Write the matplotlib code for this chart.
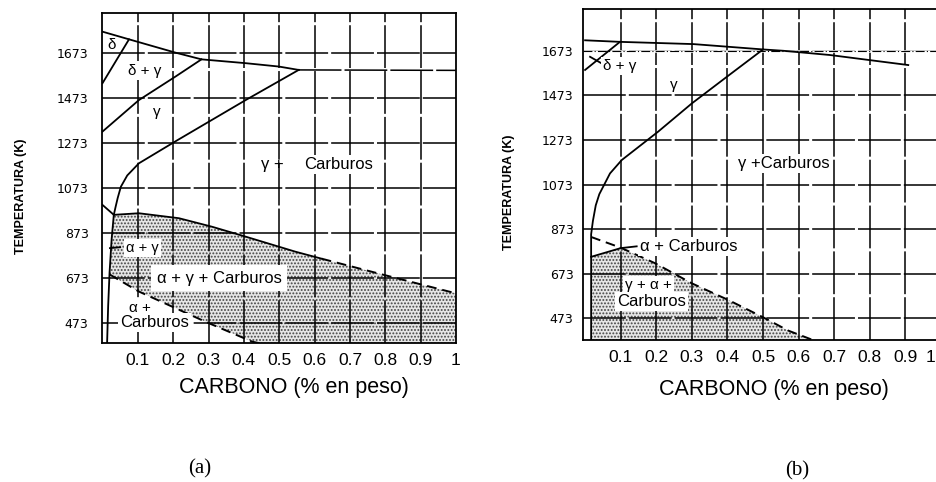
import matplotlib
matplotlib.use("Agg")
from matplotlib import pyplot
from matplotlib.transforms import ScaledTranslation

pyplot.rcParams["font.family"] = ["Liberation Sans", "DejaVu Sans"]
pyplot.rcParams["hatch.linewidth"] = 0.9

temp_ticks = [473, 673, 873, 1073, 1273, 1473, 1673]
carbon_ticks = [0.1, 0.2, 0.3, 0.4, 0.5, 0.6, 0.7, 0.8, 0.9, 1.0]
carbon_labels = ["0.1", "0.2", "0.3", "0.4", "0.5", "0.6", "0.7", "0.8", "0.9", "1"]

# ---- diagram (a) ----
a_top_x = [0.0, 0.075, 0.206, 0.28, 0.405, 0.499, 0.555]
a_top_t = [1769, 1735, 1676, 1646, 1629, 1614, 1599]
a_ext_x = [0.555, 1.0]
a_ext_t = [1599, 1597]
a_delta_x = [0.075, 0.0]
a_delta_t = [1735, 1540]
a_dg_x = [0.0, 0.103, 0.206, 0.28]
a_dg_t = [1325, 1465, 1569, 1646]
a_solvus_x = [0.555, 0.405, 0.21, 0.103, 0.07, 0.052, 0.043, 0.037, 0.032, 0.026, 0.02, 0.016, 0.013]
a_solvus_t = [1599, 1465, 1285, 1184, 1130, 1080, 1030, 990, 955, 850, 700, 550, 384]
a_ag_x = [0.0, 0.032]
a_ag_t = [999, 955]
a_eut_x = [0.032, 0.103, 0.216, 0.31, 0.405, 0.546, 0.62]
a_eut_t = [955, 962, 940, 902, 858, 791, 760]
a_eut_dash_x = [0.62, 0.796, 1.0]
a_eut_dash_t = [760, 688, 606]
a_acarb_x = [0.02, 0.103, 0.197, 0.291, 0.424, 0.445]
a_acarb_t = [690, 614, 547, 480, 391, 384]

# ---- diagram (b) ----
b_top_x = [0.0, 0.098, 0.304, 0.5, 0.557, 0.688, 0.908]
b_top_t = [1720, 1713, 1703, 1679, 1673, 1654, 1609]
b_delta_x = [0.0, 0.098]
b_delta_t = [1587, 1713]
b_solvus_x = [0.5, 0.398, 0.3, 0.205, 0.103, 0.07, 0.04, 0.03, 0.022, 0.017, 0.017]
b_solvus_t = [1679, 1556, 1437, 1310, 1183, 1123, 1030, 980, 910, 850, 376]
b_dash_x = [0.017, 0.1, 0.197, 0.3, 0.403, 0.5, 0.571, 0.64]
b_dash_t = [838, 790, 720, 630, 555, 478, 418, 376]
b_acarb_x = [0.017, 0.1]
b_acarb_t = [749, 788]

figure = pyplot.figure(figsize=(9.37, 4.82), dpi=100)
ax_a = figure.add_axes([102.5 / 937, 1 - 343.3 / 482, 353.5 / 937, 330.3 / 482])
ax_b = figure.add_axes([583.3 / 937, 1 - 340 / 482, 357.7 / 937, 330.7 / 482])

grid_style = dict(color="black", linewidth=1.1, linestyle=(0, (28, 2)), zorder=1)
line_style = dict(color="black", linewidth=1.3, zorder=3)
dash_style = dict(color="black", linewidth=1.4, linestyle=(0, (5, 3)), zorder=3)
label_box = dict(facecolor="white", edgecolor="none", pad=1.5)


def setup(ax, xlim, ylim, ypad):
    ax.set_xlim(*xlim)
    ax.set_ylim(*ylim)
    for x in carbon_ticks[:-1]:
        ax.axvline(x, **grid_style)
    for t in temp_ticks:
        ax.axhline(t, **grid_style)
    ax.set_xticks(carbon_ticks)
    ax.set_xticklabels(carbon_labels, fontsize=12.5)
    ax.set_yticks(temp_ticks)
    ax.set_yticklabels([str(t) for t in temp_ticks], fontsize=9, family="DejaVu Sans")
    ax.tick_params(axis="x", length=0, pad=7)
    ax.tick_params(axis="y", length=0, pad=ypad)
    for spine in ax.spines.values():
        spine.set_linewidth(1.3)


setup(ax_a, (0, 1.0), (384, 1852), 10)
setup(ax_b, (-0.005, 1.0), (376, 1859), 7)
# the "1" of (b) sits at the very edge of the page, pull it inside
last = ax_b.get_xticklabels()[-1]
last.set_horizontalalignment("right")
last.set_transform(last.get_transform() + ScaledTranslation(-0.06, 0, figure.dpi_scale_trans))

# (a) shaded region: alpha + gamma + carbides
shade_x = a_eut_x + a_eut_dash_x[1:] + [1.0] + a_acarb_x[::-1] + a_solvus_x[-4:-8:-1]
shade_t = a_eut_t + a_eut_dash_t[1:] + [384] + a_acarb_t[::-1] + a_solvus_t[-4:-8:-1]
ax_a.fill(shade_x, shade_t, facecolor="#e6e6e6", edgecolor="#444444", hatch=".....",
          linewidth=0, zorder=0.5)

ax_a.plot(a_top_x, a_top_t, **line_style)
ax_a.plot(a_ext_x, a_ext_t, **grid_style)
ax_a.plot(a_delta_x, a_delta_t, **line_style)
ax_a.plot(a_dg_x, a_dg_t, **line_style)
ax_a.plot(a_solvus_x, a_solvus_t, **line_style)
ax_a.plot(a_ag_x, a_ag_t, **line_style)
ax_a.plot(a_eut_x, a_eut_t, **line_style)
ax_a.plot(a_eut_dash_x, a_eut_dash_t, **dash_style)
ax_a.plot(a_acarb_x, a_acarb_t, **dash_style)
ax_a.plot([0.021, 0.05], [807, 811], **line_style)

ax_a.text(0.026, 1710, "δ", fontsize=11, ha="center", va="center")
ax_a.text(0.12, 1596, "δ + γ", fontsize=11, ha="center", va="center", bbox=label_box, zorder=4)
ax_a.text(0.154, 1413, "γ", fontsize=11, ha="center", va="center")
ax_a.text(0.48, 1177, "γ +", fontsize=12, ha="center", va="center")
ax_a.text(0.668, 1177, "Carburos", fontsize=12, ha="center", va="center", bbox=label_box, zorder=4)
ax_a.text(0.112, 808, "α + γ", fontsize=10.5, ha="center", va="center", bbox=label_box, zorder=4)
ax_a.text(0.33, 673, "α + γ + Carburos", fontsize=12, ha="center", va="center",
          bbox=dict(facecolor="white", edgecolor="none", pad=4), zorder=4)
ax_a.text(0.107, 541, "α +", fontsize=11, ha="center", va="center", bbox=label_box, zorder=4)
ax_a.text(0.146, 476, "Carburos", fontsize=12, ha="center", va="center", bbox=label_box, zorder=4)

# (b) shaded region: gamma + alpha + carbides
shade_bx = b_acarb_x + b_dash_x[2:] + [0.017]
shade_bt = b_acarb_t + b_dash_t[2:] + [376]
ax_b.fill(shade_bx, shade_bt, facecolor="#e6e6e6", edgecolor="#444444", hatch=".....",
          linewidth=0, zorder=0.5)

ax_b.axhline(1673, color="white", linewidth=1.8, zorder=1.5)
ax_b.axhline(1673, color="black", linewidth=0.8, linestyle=(0, (8, 2, 1, 2)), zorder=1.6)
ax_b.plot(b_top_x, b_top_t, **line_style)
ax_b.plot(b_delta_x, b_delta_t, **line_style)
ax_b.plot(b_solvus_x, b_solvus_t, **line_style)
ax_b.plot(b_dash_x, b_dash_t, **dash_style)
ax_b.plot(b_acarb_x, b_acarb_t, **line_style)
ax_b.plot([0.1, 0.145], [788, 796], **line_style)
ax_b.plot([0.014, 0.047], [1646, 1616], **line_style)

ax_b.text(0.098, 1604, "δ + γ", fontsize=11, ha="center", va="center", bbox=label_box, zorder=4)
ax_b.text(0.248, 1520, "γ", fontsize=11, ha="center", va="center")
ax_b.text(0.557, 1168, "γ +Carburos", fontsize=12, ha="center", va="center", bbox=label_box, zorder=4)
ax_b.text(0.155, 794, "α + Carburos", fontsize=12, ha="left", va="center", bbox=label_box, zorder=4)
ax_b.text(0.178, 622, "γ + α +", fontsize=11, ha="center", va="center", bbox=label_box, zorder=4)
ax_b.text(0.187, 547, "Carburos", fontsize=12, ha="center", va="center", bbox=label_box, zorder=4)

figure.text(293.5 / 937, 1 - 388 / 482, "CARBONO (% en peso)", fontsize=15.5, ha="center", va="center")
figure.text(773.5 / 937, 1 - 389 / 482, "CARBONO (% en peso)", fontsize=15.5, ha="center", va="center")
figure.text(21.5 / 937, 1 - 196 / 482, "TEMPERATURA (K)", fontsize=9, weight="bold",
            rotation=90, ha="center", va="center")
figure.text(509 / 937, 1 - 192 / 482, "TEMPERATURA (K)", fontsize=9, weight="bold",
            rotation=90, ha="center", va="center")
figure.text(200 / 937, 1 - 469 / 482, "(a)", fontsize=15, family="Liberation Serif", ha="center", va="center")
figure.text(797 / 937, 1 - 471 / 482, "(b)", fontsize=15, family="Liberation Serif", ha="center", va="center")

pyplot.savefig("out.png", dpi=100)
